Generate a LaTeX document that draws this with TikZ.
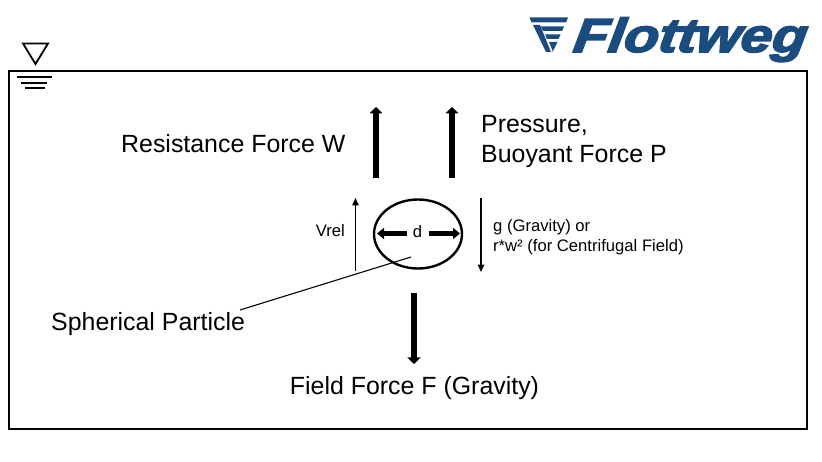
\documentclass[tikz,border=0pt]{standalone}
\usepackage{fontspec}
\setmainfont{Liberation Sans}
\newfontfamily\logofont[FakeBold=3.2,FakeSlant=0.12]{Liberation Sans Bold Italic}
\definecolor{logoblue}{HTML}{1B4C80}
\usetikzlibrary{arrows.meta,shapes.geometric}
\tikzset{
  big/.style={font=\fontsize{25}{30}\selectfont,inner sep=0pt,align=left},
  small/.style={font=\fontsize{16.7}{20.5}\selectfont,inner sep=0pt,align=left},
  force/.style={line width=6.5bp,-{Triangle[length=6.5bp,width=13bp]}},
  thin arrow/.style={line width=1.3pt,-{Triangle[length=7.5pt,width=6.5pt]}},
  dim arrow/.style={line width=4.5bp,-{Triangle[length=7bp,width=11bp]}}
}
\begin{document}
\begin{tikzpicture}[x=1bp,y=-1bp]
\useasboundingbox (0,0) rectangle (822,462);
% frame
\node[draw,line width=2.4pt,minimum width=798bp,minimum height=358bp,inner sep=0pt,anchor=north west] (frame) at (7.6,69.6) {};
% water level
\draw[line width=1.8pt,line join=miter] (23,43.5) -- (48,43.5) -- (35.5,64) -- cycle;
\coordinate (w1a) at (17,77); \coordinate (w1b) at (52,77);
\coordinate (w2a) at (21,83); \coordinate (w2b) at (47,83);
\coordinate (w3a) at (25,88.5); \coordinate (w3b) at (45,88.5);
\draw[line width=2pt] (w1a) -- (w1b);
\draw[line width=2pt] (w2a) -- (w2b);
\draw[line width=2pt] (w3a) -- (w3b);
% logo
\fill[logoblue] (529.5,17.5) -- (568,17.5) -- (566,22.5) -- (531.5,22.5) -- cycle;
\fill[logoblue] (533,25) -- (540,25) -- (551,52) -- (546,52) -- cycle;
\fill[logoblue] (541,26.5) -- (564,26.5) -- (562,31) -- (543,31) -- cycle;
\fill[logoblue] (545,34.5) -- (560.5,34.5) -- (558.5,39) -- (547,39) -- cycle;
\fill[logoblue] (549,42) -- (557.5,42) -- (552.5,52) -- (553,52) -- cycle;
\node[inner sep=0pt,anchor=base west,text=logoblue] (logo) at (572,52)
  {\resizebox{233bp}{34.5bp}{\logofont Flottweg}};
% labels
\node[big,anchor=west] (res) at (121,143.5) {Resistance Force W};
\node[big,anchor=north west] (press) at (481,115) {Pressure,\\Buoyant Force P};
\node[small,anchor=east] (vrel) at (345,231) {Vrel};
\node[small,anchor=west] (grav) at (493,237) {g (Gravity) or\\r*w² (for Centrifugal Field)};
\node[big,anchor=west] (sph) at (51,324) {Spherical Particle};
\node[big,anchor=center] (field) at (414.5,388) {Field Force F (Gravity)};
% force arrows
\coordinate (wS) at (376,178); \coordinate (wE) at (376,107);
\coordinate (pS) at (452,178); \coordinate (pE) at (452,107);
\coordinate (fS) at (414,293); \coordinate (fE) at (414,364);
\draw[force] (wS) -- (wE);
\draw[force] (pS) -- (pE);
\draw[force] (fS) -- (fE);
% particle
\node[draw,line width=2.4pt,ellipse,minimum width=88bp,minimum height=69bp,inner sep=0pt] (part) at (418,234) {};
\node[small,anchor=center] (d) at (417.5,232) {d};
\coordinate (dL) at (407,233.5); \coordinate (dLe) at (377,233.5);
\coordinate (dR) at (429,233.5); \coordinate (dRe) at (460,233.5);
\draw[dim arrow] (dL) -- (dLe);
\draw[dim arrow] (dR) -- (dRe);
% thin arrows
\coordinate (vS) at (355.5,271); \coordinate (vE) at (355.5,198);
\coordinate (gS) at (481,198); \coordinate (gE) at (481,272);
\draw[thin arrow] (vS) -- (vE);
\draw[thin arrow] (gS) -- (gE);
% leader
\coordinate (lS) at (240,310); \coordinate (lE) at (411,257);
\draw[line width=1.1pt] (lS) -- (lE);
\end{tikzpicture}
\end{document}
